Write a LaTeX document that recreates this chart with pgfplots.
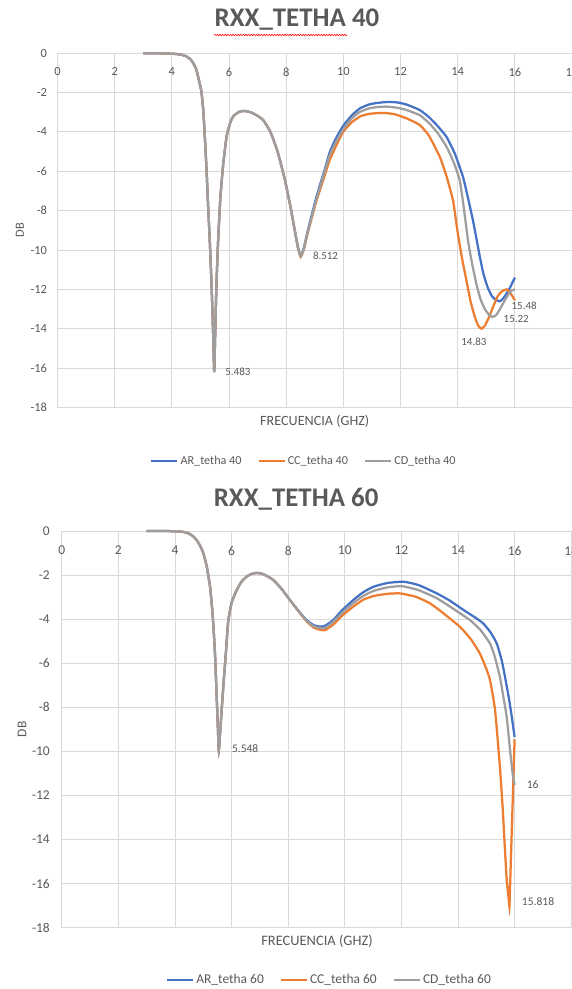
\documentclass[border=0pt]{standalone}
\usepackage{pgfplots}
\pgfplotsset{compat=1.18}
\usepackage{fontspec}
\setmainfont{Carlito}
\usetikzlibrary{decorations.pathmorphing}
\definecolor{cblue}{HTML}{4472C4}
\definecolor{corange}{HTML}{ED7D31}
\definecolor{cgray}{HTML}{9E9E9E}
\definecolor{txt}{HTML}{595959}
\definecolor{gridc}{HTML}{D9D9D9}

\pgfplotstableread{
x y
3.0 0
3.5 0
4.0 -0.02
4.3 -0.06
4.5 -0.15
4.65 -0.3
4.75 -0.5
4.85 -0.8
4.92 -1.2
5.0 -1.7
5.04 -2.0
5.1 -2.9
5.16 -4.4
5.22 -6.1
5.27 -7.8
5.33 -9.6
5.4 -12.2
5.45 -14.5
5.483 -16.2
5.513 -14.5
5.56 -11.8
5.62 -9.5
5.70 -7.3
5.80 -5.6
5.92 -4.2
6.05 -3.5
6.15 -3.2
6.35 -2.98
6.56 -2.93
6.8 -3.02
7.0 -3.18
7.2 -3.4
7.45 -4.0
7.7 -5.0
7.95 -6.4
8.15 -7.8
8.3 -9.0
8.42 -9.9
8.512 -10.3
8.62 -9.9
8.71 -9.3
8.88 -8.3
9.06 -7.3
9.18 -6.7
9.35 -5.9
9.53 -5.0
9.75 -4.3
9.99 -3.7
10.3 -3.15
10.58 -2.8
10.9 -2.6
11.2 -2.52
11.57 -2.47
11.9 -2.5
12.2 -2.6
12.67 -2.88
13.0 -3.25
13.3 -3.7
13.61 -4.25
13.9 -5.1
14.19 -6.3
14.4 -7.6
14.55 -8.6
14.66 -9.45
14.77 -10.3
14.9 -11.2
15.05 -11.9
15.2 -12.35
15.35 -12.55
15.48 -12.6
15.6 -12.45
15.8 -12.0
16.0 -11.4
}\tarA

\pgfplotstableread{
x y
3.0 0
3.5 0
4.0 -0.02
4.3 -0.06
4.5 -0.15
4.65 -0.3
4.75 -0.5
4.85 -0.8
4.92 -1.2
5.0 -1.7
5.04 -2.0
5.1 -2.9
5.16 -4.4
5.22 -6.1
5.27 -7.8
5.33 -9.6
5.4 -12.2
5.45 -14.5
5.483 -16.2
5.513 -14.5
5.56 -11.8
5.62 -9.5
5.70 -7.3
5.80 -5.6
5.92 -4.2
6.05 -3.5
6.15 -3.2
6.35 -2.98
6.56 -2.93
6.8 -3.02
7.0 -3.18
7.2 -3.4
7.45 -4.0
7.7 -5.0
7.95 -6.4
8.15 -7.8
8.3 -9.0
8.42 -9.95
8.512 -10.35
8.62 -9.95
8.71 -9.4
8.88 -8.45
9.06 -7.5
9.18 -6.95
9.35 -6.2
9.53 -5.4
9.75 -4.7
9.99 -4.0
10.3 -3.5
10.6 -3.2
10.9 -3.08
11.2 -3.04
11.45 -3.03
11.8 -3.1
12.2 -3.3
12.67 -3.64
13.0 -4.2
13.37 -5.25
13.6 -6.2
13.84 -7.5
14.0 -9.1
14.15 -10.4
14.3 -11.5
14.45 -12.6
14.6 -13.4
14.72 -13.85
14.83 -14.0
14.95 -13.85
15.1 -13.4
15.25 -12.85
15.4 -12.35
15.55 -12.1
15.71 -12.0
15.85 -12.2
16.0 -12.55
}\tacC

\pgfplotstableread{
x y
3.0 0
3.5 0
4.0 -0.02
4.3 -0.06
4.5 -0.15
4.65 -0.3
4.75 -0.5
4.85 -0.8
4.92 -1.2
5.0 -1.7
5.04 -2.0
5.1 -2.9
5.16 -4.4
5.22 -6.1
5.27 -7.8
5.33 -9.6
5.4 -12.2
5.45 -14.5
5.483 -16.2
5.513 -14.5
5.56 -11.8
5.62 -9.5
5.70 -7.3
5.80 -5.6
5.92 -4.2
6.05 -3.5
6.15 -3.2
6.35 -2.98
6.56 -2.93
6.8 -3.02
7.0 -3.18
7.2 -3.4
7.45 -4.0
7.7 -5.0
7.95 -6.4
8.15 -7.8
8.3 -9.0
8.42 -9.92
8.512 -10.32
8.62 -9.92
8.71 -9.35
8.88 -8.38
9.06 -7.4
9.18 -6.8
9.35 -6.0
9.53 -5.15
9.75 -4.48
9.99 -3.87
10.3 -3.3
10.58 -2.98
10.9 -2.8
11.2 -2.73
11.51 -2.71
11.9 -2.77
12.2 -2.88
12.67 -3.14
13.0 -3.55
13.3 -4.05
13.61 -4.75
13.85 -5.5
14.07 -6.44
14.2 -7.7
14.36 -9.5
14.48 -10.5
14.65 -11.7
14.8 -12.5
14.95 -13.0
15.1 -13.3
15.22 -13.4
15.35 -13.3
15.5 -12.95
15.65 -12.55
15.8 -12.2
15.9 -12.05
16.0 -12.0
}\tadD

\pgfplotstableread{
x y
3.0 0
3.5 0
4.0 -0.01
4.29 -0.04
4.5 -0.12
4.65 -0.25
4.77 -0.42
4.9 -0.7
5.0 -1.0
5.12 -1.6
5.24 -2.55
5.33 -3.8
5.41 -5.5
5.51 -8.75
5.548 -9.95
5.615 -8.75
5.71 -7.0
5.8 -5.5
5.88 -4.1
6.0 -3.25
6.18 -2.68
6.35 -2.3
6.53 -2.07
6.7 -1.95
6.89 -1.9
7.1 -1.95
7.3 -2.08
7.47 -2.22
7.75 -2.6
8.06 -3.13
8.35 -3.6
8.65 -4.04
8.9 -4.27
9.12 -4.34
9.3 -4.3
9.59 -4.04
9.9 -3.6
10.3 -3.13
10.65 -2.78
11.01 -2.53
11.5 -2.36
12.07 -2.3
12.6 -2.45
13.25 -2.83
13.7 -3.15
14.19 -3.58
14.6 -3.92
14.89 -4.19
15.15 -4.6
15.37 -5.1
15.55 -5.9
15.66 -6.61
15.8 -7.6
15.9 -8.43
16.0 -9.35
}\tbA

\pgfplotstableread{
x y
3.0 0
3.5 0
4.0 -0.01
4.29 -0.04
4.5 -0.12
4.65 -0.25
4.77 -0.42
4.9 -0.7
5.0 -1.0
5.12 -1.6
5.24 -2.55
5.33 -3.8
5.41 -5.5
5.51 -8.75
5.548 -9.95
5.615 -8.75
5.71 -7.0
5.8 -5.5
5.88 -4.1
6.0 -3.25
6.18 -2.68
6.35 -2.3
6.53 -2.07
6.7 -1.95
6.89 -1.9
7.1 -1.95
7.3 -2.08
7.47 -2.22
7.75 -2.6
8.06 -3.13
8.35 -3.62
8.65 -4.1
8.9 -4.38
9.12 -4.48
9.3 -4.5
9.59 -4.25
9.9 -3.85
10.3 -3.43
10.65 -3.12
11.01 -2.95
11.5 -2.85
11.95 -2.83
12.5 -2.98
13.01 -3.28
13.5 -3.75
14.07 -4.35
14.45 -4.9
14.77 -5.55
15.0 -6.25
15.13 -6.76
15.31 -8.12
15.48 -10.7
15.58 -12.6
15.66 -14.47
15.72 -15.8
15.78 -16.55
15.818 -17.05
15.83 -16.55
15.91 -13.2
16.0 -9.45
}\tbC

\pgfplotstableread{
x y
3.0 0
3.5 0
4.0 -0.01
4.29 -0.04
4.5 -0.12
4.65 -0.25
4.77 -0.42
4.9 -0.7
5.0 -1.0
5.12 -1.6
5.24 -2.55
5.33 -3.8
5.41 -5.5
5.51 -8.75
5.548 -9.95
5.615 -8.75
5.71 -7.0
5.8 -5.5
5.88 -4.1
6.0 -3.25
6.18 -2.68
6.35 -2.3
6.53 -2.07
6.7 -1.95
6.89 -1.9
7.1 -1.95
7.3 -2.08
7.47 -2.22
7.75 -2.6
8.06 -3.13
8.35 -3.61
8.65 -4.07
8.9 -4.32
9.12 -4.4
9.3 -4.4
9.59 -4.12
9.9 -3.72
10.3 -3.27
10.65 -2.95
11.01 -2.72
11.5 -2.56
12.01 -2.5
12.6 -2.68
13.25 -3.05
13.8 -3.5
14.42 -4.04
14.8 -4.5
15.13 -5.1
15.3 -5.7
15.48 -6.61
15.6 -7.5
15.72 -8.43
15.84 -9.94
15.93 -11.0
16.0 -11.52
}\tbD

\pgfplotsset{
  rxx/.style={
    scale only axis,
    xmin=0, xmax=18, ymin=-18, ymax=0,
    xtick={0,2,...,18}, ytick={-18,-16,...,0},
    xticklabels={0,2,4,6,8,10,12,14,16,18},
    yticklabels={-18,-16,-14,-12,-10,-8,-6,-4,-2,0},
    grid=major,
    major grid style={gridc, line width=1bp},
    axis line style={gridc, line width=1bp},
    major tick length=0pt,
    xticklabel pos=upper,
    tick label style={text=txt},
    label style={text=txt},
    clip=false,
    legend columns=3,
    legend cell align=left,
    legend style={draw=none, fill=none, anchor=center, text=txt,
      /tikz/every even column/.append style={column sep=14bp}},
    legend image code/.code={\draw[#1, line width=2.25bp] (0bp,0bp) -- (26bp,0bp);},
    every axis plot/.append style={line width=2.25bp, smooth, tension=0.3, mark=none},
  },
}
\tikzset{dl/.style={font=\fontsize{11}{13}\selectfont, text=txt, inner sep=0pt}}

\begin{document}
\begin{tikzpicture}
\path[use as bounding box] (0,0) rectangle (572bp,-989bp);

% ---------- top chart ----------
\begin{axis}[rxx,
  at={(57.5bp,-407.4bp)}, anchor=south west,
  width=514.5bp, height=354.1bp,
  xticklabel style={anchor=north, yshift=-11bp, font=\fontsize{12.5}{14}\selectfont},
  yticklabel style={xshift=-7bp, font=\fontsize{12.5}{14}\selectfont},
  title={RXX\_TETHA 40},
  title style={at={(axis description cs:0.4655,1.0602)}, anchor=base,
    font=\bfseries\fontsize{27}{32}\selectfont, text=txt},
  xlabel={FRECUENCIA (GHZ)},
  xlabel style={at={(axis description cs:0.5,-0.038)}, anchor=center, font=\fontsize{14.2}{16}\selectfont},
  ylabel={DB},
  ylabel style={at={(axis description cs:-0.073,0.5)}, anchor=center, font=\fontsize{12.5}{14}\selectfont},
  legend style={at={(axis description cs:0.479,-0.151)}, font=\fontsize{12.2}{14}\selectfont},
]
\addplot[cblue] table {\tarA};
\addlegendentry{AR\_tetha 40}
\addplot[corange] table {\tacC};
\addlegendentry{CC\_tetha 40}
\addplot[cgray] table {\tadD};
\addlegendentry{CD\_tetha 40}
\node[dl, anchor=west, xshift=11bp] at (axis cs:5.483,-16.2) {5.483};
\node[dl, anchor=west, xshift=12bp] at (axis cs:8.512,-10.3) {8.512};
\node[dl, anchor=center, xshift=-7.5bp, yshift=-13.4bp] at (axis cs:14.83,-14.0) {14.83};
\node[dl, anchor=west, xshift=11bp, yshift=-2bp] at (axis cs:15.22,-13.4) {15.22};
\node[dl, anchor=west, xshift=11.5bp, yshift=-5bp] at (axis cs:15.48,-12.6) {15.48};
\end{axis}
\draw[red, line width=0.6bp, decorate, decoration={snake, amplitude=0.7bp, segment length=2.6bp}] (214bp,-35bp) -- (347bp,-35bp);

% ---------- bottom chart ----------
\begin{axis}[rxx,
  at={(61.8bp,-927.7bp)}, anchor=south west,
  width=509.4bp, height=396.7bp,
  xticklabel style={anchor=north, yshift=-11.5bp, font=\fontsize{13.5}{15}\selectfont},
  yticklabel style={xshift=-8.5bp, font=\fontsize{13.5}{15}\selectfont},
  title={RXX\_TETHA 60},
  title style={at={(axis description cs:0.46,1.0479)}, anchor=base,
    font=\bfseries\fontsize{27}{32}\selectfont, text=txt},
  xlabel={FRECUENCIA (GHZ)},
  xlabel style={at={(axis description cs:0.501,-0.0335)}, anchor=center, font=\fontsize{14.5}{17}\selectfont},
  ylabel={DB},
  ylabel style={at={(axis description cs:-0.078,0.5)}, anchor=center, font=\fontsize{13.5}{15}\selectfont},
  legend style={at={(axis description cs:0.5255,-0.1315)}, font=\fontsize{13.5}{15}\selectfont},
]
\addplot[cblue] table {\tbA};
\addlegendentry{AR\_tetha 60}
\addplot[corange] table {\tbC};
\addlegendentry{CC\_tetha 60}
\addplot[cgray] table {\tbD};
\addlegendentry{CD\_tetha 60}
\node[dl, anchor=west, xshift=13bp, yshift=2bp, font=\fontsize{11.6}{13}\selectfont] at (axis cs:5.548,-9.95) {5.548};
\node[dl, anchor=west, xshift=12bp, font=\fontsize{11.6}{13}\selectfont] at (axis cs:16,-11.52) {16};
\node[dl, anchor=west, xshift=12.3bp, yshift=5bp, font=\fontsize{11.6}{13}\selectfont] at (axis cs:15.818,-17.05) {15.818};
\end{axis}
\end{tikzpicture}
\end{document}
